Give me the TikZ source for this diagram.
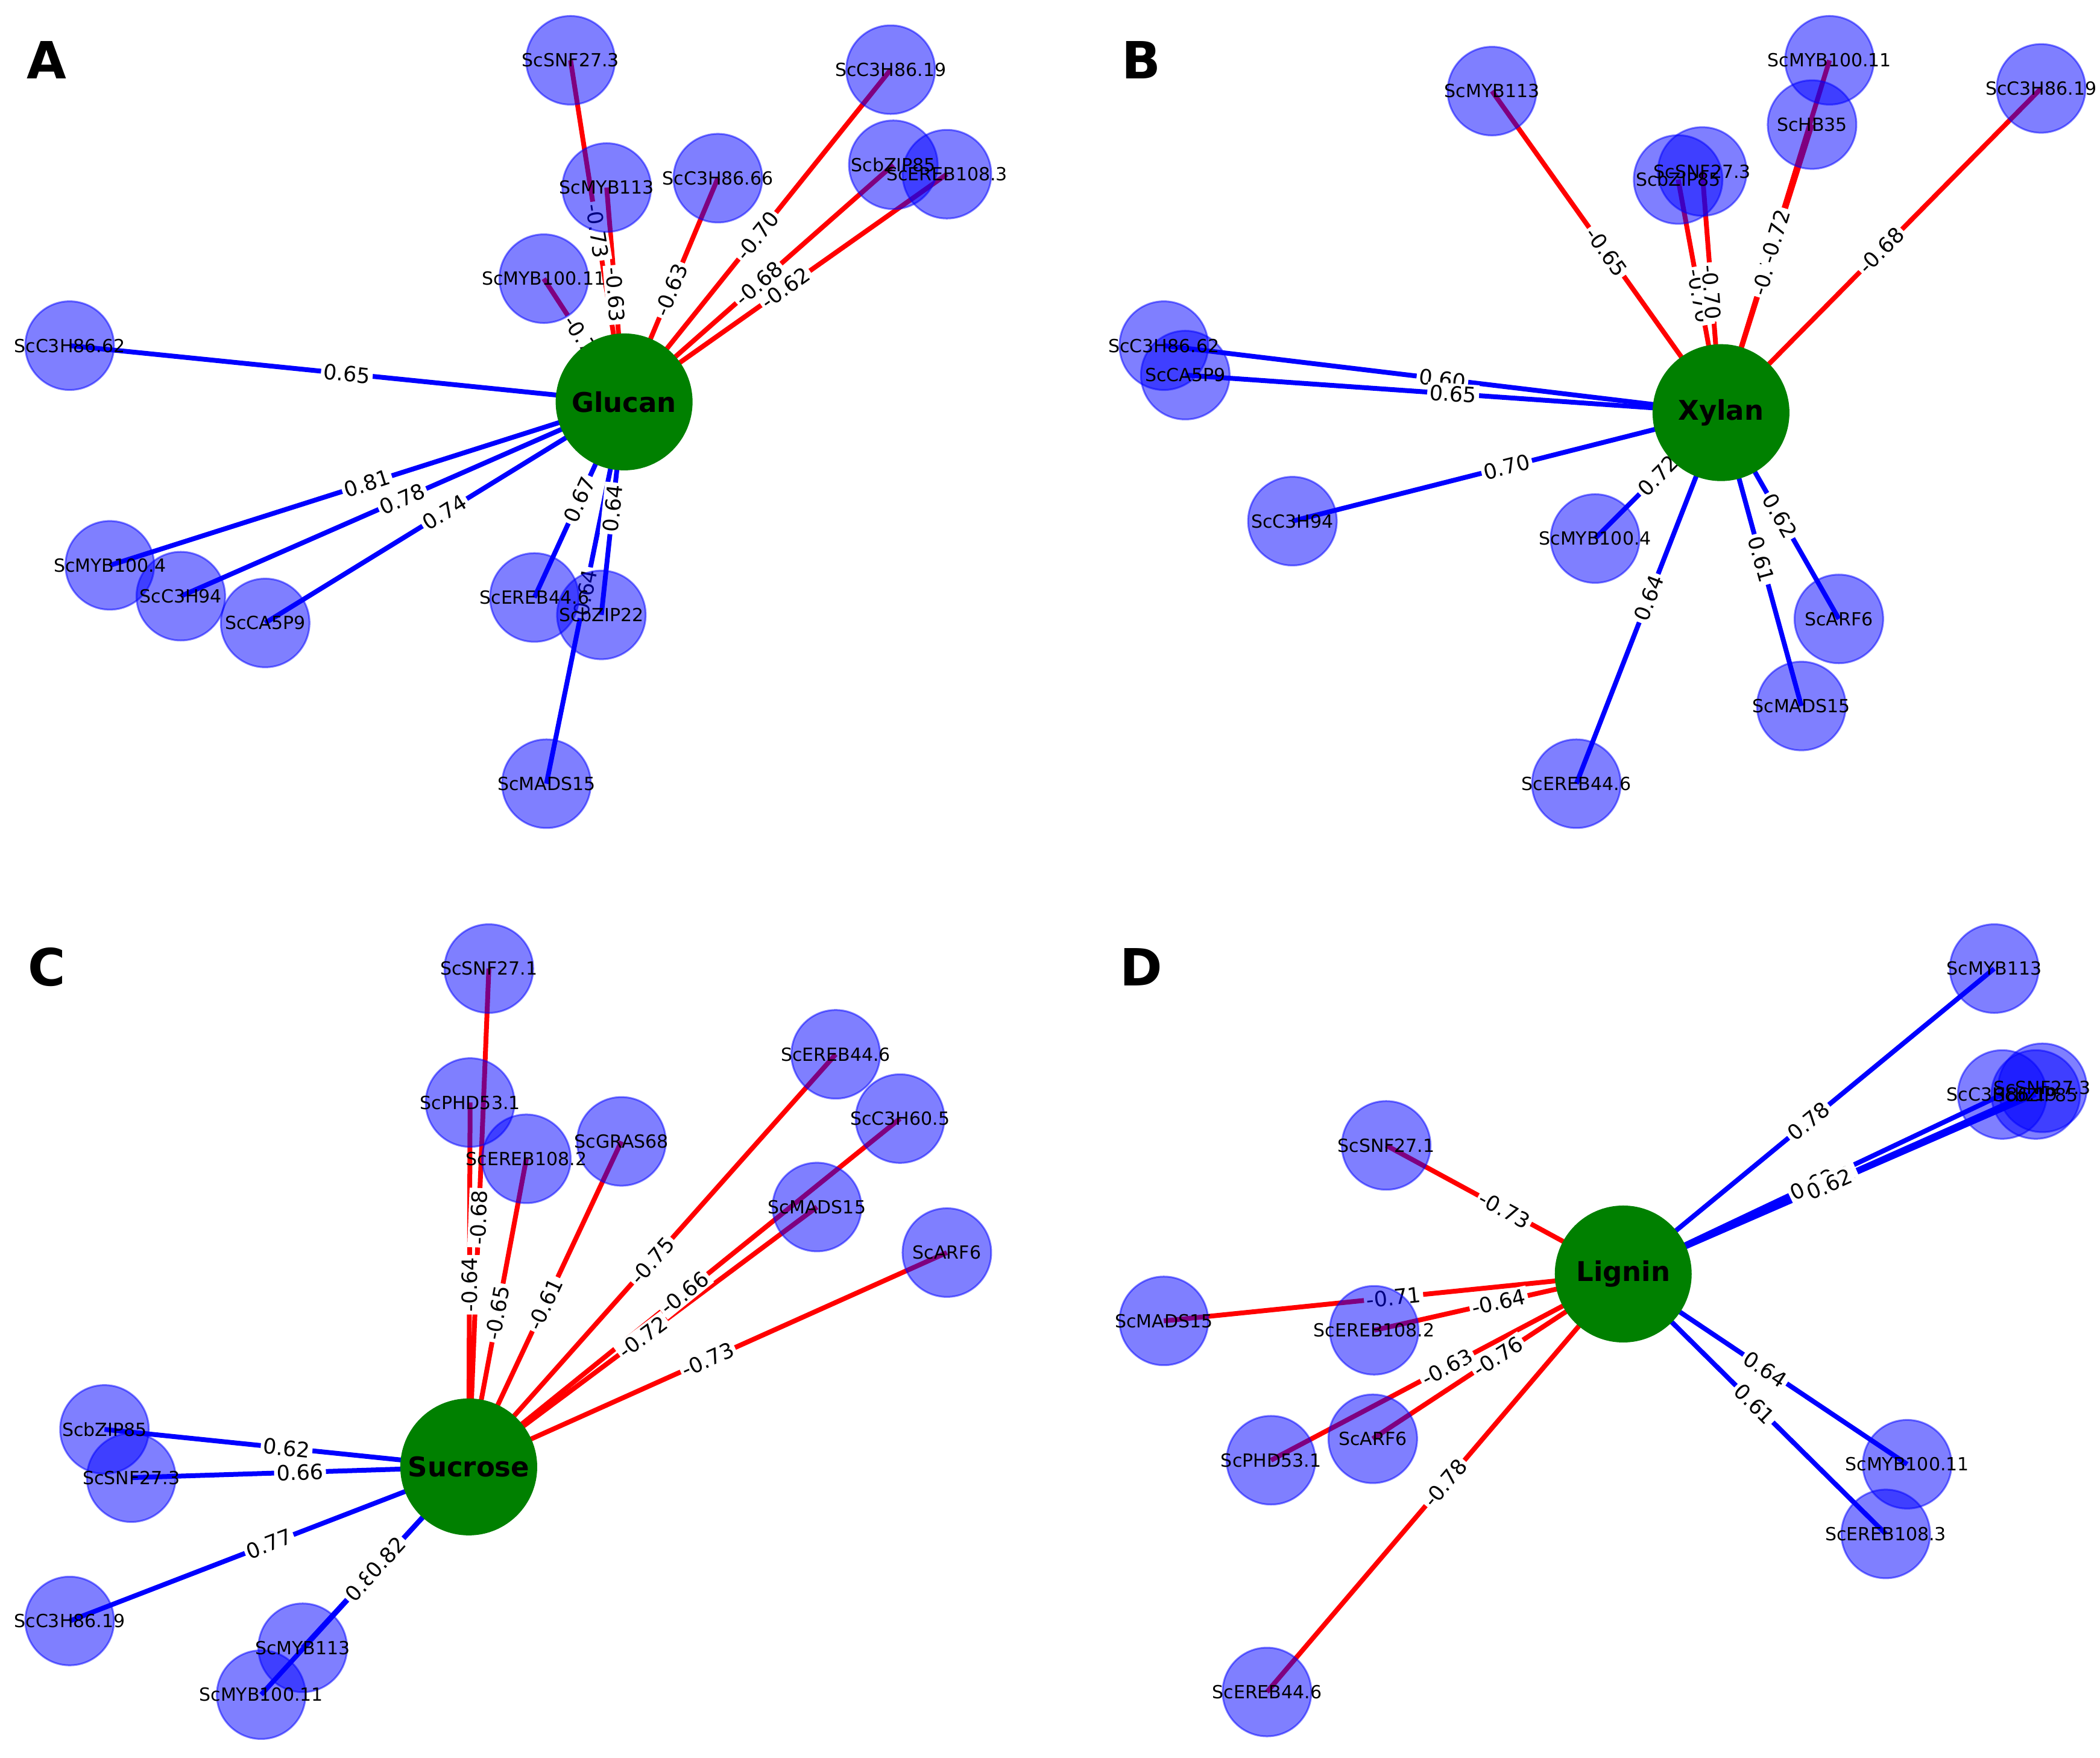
\documentclass[tikz,border=0pt]{standalone}
\usepackage{fontspec}
\setmainfont{DejaVu Sans}
\begin{document}
\begin{tikzpicture}[x=2.221pt,y=-2.221pt,
  edge/.style={line width=8pt},
  elab/.style={fill=white,inner sep=4pt,font=\fontsize{35}{35}\selectfont,sloped,midway},
  gcirc/.style={circle,minimum size=147pt,inner sep=0pt,fill=blue,fill opacity=0.5,draw=blue,draw opacity=0.5,line width=3pt},
  gtext/.style={font=\fontsize{30}{30}\selectfont,inner sep=0pt},
  ccirc/.style={circle,minimum size=227pt,inner sep=0pt,fill=green!50!black,font=\fontsize{45}{45}\selectfont\bfseries},
  plet/.style={font=\fontsize{85}{85}\selectfont\bfseries,inner sep=0pt}]
\useasboundingbox (0,0) rectangle (1568,1312);
\newcommand{\panel}[5]{%
  \coordinate (#1) at (#2,#3);
  \foreach \n/\x/\y/\c/\l/\t in {#5}{\coordinate (\n) at (\x,\y);}
  \foreach \n/\x/\y/\c/\l/\t in {#5}{\draw[edge,\c] (#1) -- (\n);}
  \foreach \n/\x/\y/\c/\l/\t in {#5}{\path (#1) -- (\n) node[elab]{\l};}
  \foreach \n/\x/\y/\c/\l/\t in {#5}{\node[gcirc] (\n c) at (\n) {};}
  \node[ccirc] (#1n) at (#1) {#4};
  \foreach \n/\x/\y/\c/\l/\t in {#5}{\node[gtext] (\n t) at (\n) {\t};}
}
\panel{gA}{466}{300}{Glucan}{a1/426/45/red/-0.73/ScSNF27.3, a2/453/140/red/-0.63/ScMYB113, a3/536/133/red/-0.63/ScC3H86.66, a4/665/52/red/-0.70/ScC3H86.19, a7/406/208/red/-0.70/ScMYB100.11, a5/667/123/red/-0.68/ScbZIP85, a6/707/130/red/-0.62/ScEREB108.3, a8/52/258/blue/0.65/ScC3H86.62, a9/82/422/blue/0.81/ScMYB100.4, a10/135/445/blue/0.78/ScC3H94, a11/198/465/blue/0.74/ScCA5P9, a12/399/446/blue/0.67/ScEREB44.6, a14/408/585/blue/0.64/ScMADS15, a13/449/459/blue/0.64/ScbZIP22}
\panel{gB}{1285}{308}{Xylan}{b1/1114/68/red/-0.65/ScMYB113, b3/1353/93/red/-0.72/ScHB35, b2/1366/45/red/-0.72/ScMYB100.11, b4/1253/134/red/-0.70/ScbZIP85, b5/1271/128/red/-0.70/ScSNF27.3, b6/1524/66/red/-0.68/ScC3H86.19, b7/869/258/blue/0.60/ScC3H86.62, b8/885/280/blue/0.65/ScCA5P9, b9/965/389/blue/0.70/ScC3H94, b10/1191/402/blue/0.72/ScMYB100.4, b11/1373/462/blue/0.62/ScARF6, b12/1345/527/blue/0.61/ScMADS15, b13/1177/585/blue/0.64/ScEREB44.6}
\panel{gC}{350}{1095}{Sucrose}{c1/365/723/red/-0.68/ScSNF27.1, c2/351/823/red/-0.64/ScPHD53.1, c3/393/865/red/-0.65/ScEREB108.2, c4/464/852/red/-0.61/ScGRAS68, c5/624/787/red/-0.75/ScEREB44.6, c6/672/835/red/-0.66/ScC3H60.5, c7/610/901/red/-0.72/ScMADS15, c8/707/935/red/-0.73/ScARF6, c9/78/1067/blue/0.62/ScbZIP85, c10/98/1103/blue/0.66/ScSNF27.3, c11/52/1210/blue/0.77/ScC3H86.19, c13/195/1265/blue/0.80/ScMYB100.11, c12/226/1230/blue/0.82/ScMYB113}
\panel{gD}{1212}{951}{Lignin}{d1/1489/723/blue/0.78/ScMYB113, d2/1495/817/blue/0.62/ScC3H86.19, d3/1525/812/blue/0.62/ScSNF27.3, d4/1520/817/blue/0.62/ScbZIP85, d5/1035/855/red/-0.73/ScSNF27.1, d6/869/986/red/-0.71/ScMADS15, d7/1026/993/red/-0.64/ScEREB108.2, d8/949/1090/red/-0.63/ScPHD53.1, d9/1025/1074/red/-0.76/ScARF6, d10/946/1263/red/-0.78/ScEREB44.6, d11/1424/1093/blue/0.64/ScMYB100.11, d12/1408/1145/blue/0.61/ScEREB108.3}
\node[plet] (pA) at (35,45) {A};
\node[plet] (pB) at (852,45) {B};
\node[plet] (pC) at (35,722) {C};
\node[plet] (pD) at (852,722) {D};
\end{tikzpicture}
\end{document}
